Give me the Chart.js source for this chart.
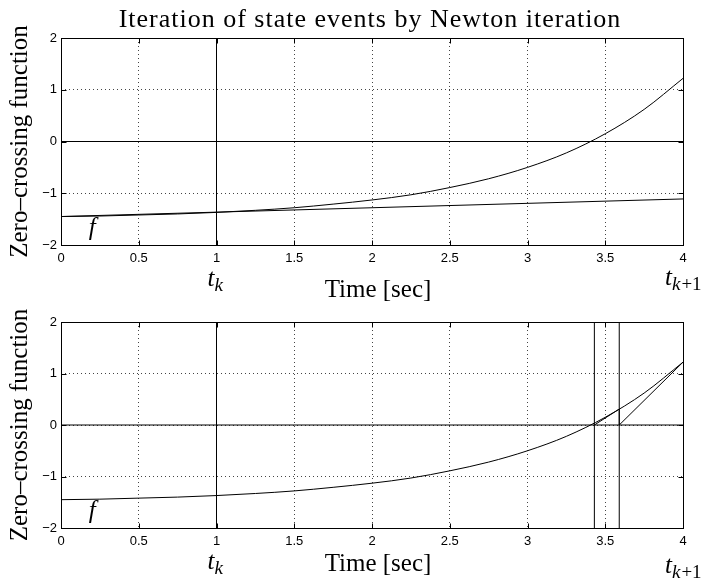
<!DOCTYPE html>
<html>
<head>
<meta charset="utf-8">
<script src="https://cdn.jsdelivr.net/npm/chart.js@4.4.1/dist/chart.umd.min.js"></script>
<style>
  body { margin: 0; background: #fff; }
  canvas { position: absolute; left: 0; }
  #topChart { top: 0; }
  #bottomChart { top: 290px; }
</style>
</head>
<body>
<canvas id="topChart" width="714" height="310"></canvas>
<canvas id="bottomChart" width="714" height="297"></canvas>
<script>
// values
const timeSec = [0, 0.25, 0.5, 0.75, 1, 1.25, 1.5, 1.75, 2, 2.25, 2.5, 2.75, 3, 3.25, 3.5, 3.75, 4];
const zeroCrossing = [-1.45, -1.44, -1.42, -1.4, -1.37, -1.33, -1.28, -1.21, -1.13, -1.03, -0.89, -0.72, -0.5, -0.22, 0.15, 0.62, 1.22];

const tk = 1;
const tk1 = 4;

// straight line through f(0) and f(tk), top plot
const secantTime = [0, 4];
const secantValue = [-1.45, -1.11];

// newton steps, bottom plot
const newtonTime = [4, 3.59, 3.59, 3.43];
const newtonValue = [1.22, 0, 0.31, 0];
const eventTimes = [3.43, 3.59];

const xTicks = [0, 0.5, 1, 1.5, 2, 2.5, 3, 3.5, 4];
const yTicks = [-2, -1, 0, 1, 2];

const titleText = 'Iteration of state events by Newton iteration';
const serif = '"Liberation Serif", "Times New Roman", serif';
const sans = '"Liberation Sans", Arial, sans-serif';

const toPoints = (xs, ys) => xs.map((x, i) => ({x: x, y: ys[i]}));

const lineSet = (data, extra) => Object.assign({
    data: data,
    showLine: true,
    borderColor: '#000',
    borderWidth: 1,
    pointRadius: 0,
    fill: false,
}, extra || {});

const baseSets = () => [
    lineSet(toPoints(timeSec, zeroCrossing), {cubicInterpolationMode: 'monotone'}),
    lineSet([{x: 0, y: 0}, {x: 4, y: 0}]),
    lineSet([{x: tk, y: -2}, {x: tk, y: 2}]),
];

const drawSub = (ctx, main, sub, rest, x, y) => {
    ctx.font = 'italic 25px ' + serif;
    ctx.fillText(main, x, y);
    let w = ctx.measureText(main).width;
    ctx.font = 'italic 19px ' + serif;
    ctx.fillText(sub, x + w, y + 5);
    if (rest) {
        let w2 = ctx.measureText(sub).width;
        ctx.font = '19px ' + serif;
        ctx.fillText(rest, x + w + w2 + 1, y + 5);
    }
};

// box, inward ticks and the annotation texts
const framePlugin = {
    id: 'frame',
    afterDraw(chart, args, opts) {
        const {ctx, chartArea: a, scales: {x, y}} = chart;
        ctx.save();
        ctx.strokeStyle = '#000';
        ctx.lineWidth = 1;
        const L = Math.round(a.left) + 0.5, R = Math.round(a.right) + 0.5;
        const T = Math.round(a.top) + 0.5, B = Math.round(a.bottom) + 0.5;
        ctx.strokeRect(L, T, R - L, B - T);
        ctx.beginPath();
        xTicks.forEach(v => {
            let px = Math.round(x.getPixelForValue(v)) + 0.5;
            ctx.moveTo(px, B); ctx.lineTo(px, B - 5);
            ctx.moveTo(px, T); ctx.lineTo(px, T + 5);
        });
        yTicks.forEach(v => {
            let py = Math.round(y.getPixelForValue(v)) + 0.5;
            ctx.moveTo(L, py); ctx.lineTo(L + 5, py);
            ctx.moveTo(R, py); ctx.lineTo(R - 5, py);
        });
        ctx.stroke();

        ctx.fillStyle = '#000';
        ctx.textBaseline = 'alphabetic';
        ctx.textAlign = 'left';
        drawSub(ctx, 't', 'k', '', x.getPixelForValue(tk) - 9, a.bottom + opts.tkBase);
        drawSub(ctx, 't', 'k', '+1', x.getPixelForValue(tk1) - 18, a.bottom + opts.tk1Base);

        ctx.font = '25px ' + serif;
        ctx.textAlign = 'center';
        ctx.fillText('Time [sec]', (a.left + a.right) / 2 + 6, a.bottom + opts.timeBase);

        if (opts.title) {
            ctx.font = '26px ' + serif;
            ctx.letterSpacing = '1px';
            ctx.fillText(opts.title, (a.left + a.right) / 2 - 2, a.top - 11);
            ctx.letterSpacing = '0px';
        }

        ctx.font = 'italic 25px ' + serif;
        ctx.fillText('f', x.getPixelForValue(0.2), y.getPixelForValue(-1.65) + 8);
        ctx.restore();
    },
};

const makeOptions = (xHeight, padTop, labelOpts) => ({
    responsive: false,
    animation: false,
    devicePixelRatio: 1,
    layout: {padding: {left: 0, right: 31, top: padTop, bottom: 0}},
    plugins: {
        legend: {display: false},
        tooltip: {enabled: false},
        frame: labelOpts,
    },
    scales: {
        x: {
            type: 'linear',
            min: 0,
            max: 4,
            afterFit: s => { s.height = xHeight; },
            afterBuildTicks: s => { s.ticks = xTicks.map(v => ({value: v})); },
            grid: {color: '#444', lineWidth: 1, drawTicks: false},
            border: {display: false, dash: [1, 3]},
            ticks: {
                color: '#000',
                padding: 6,
                maxRotation: 0,
                font: {family: sans, size: 13},
                callback: v => String(v),
            },
        },
        y: {
            type: 'linear',
            min: -2,
            max: 2,
            afterFit: s => { s.width = 61; },
            afterBuildTicks: s => { s.ticks = yTicks.map(v => ({value: v})); },
            grid: {color: '#444', lineWidth: 1, drawTicks: false},
            border: {display: false, dash: [1, 3]},
            ticks: {
                color: '#000',
                padding: 4,
                font: {family: sans, size: 13},
                callback: v => String(v).replace('-', '\u2212'),
            },
            title: {
                display: true,
                text: 'Zero\u2013crossing function',
                color: '#000',
                font: {family: serif, size: 25},
                padding: {top: 5, bottom: 0},
            },
        },
    },
});

new Chart(document.getElementById('topChart'), {
    type: 'scatter',
    data: {
        datasets: baseSets().concat([
            lineSet(toPoints(secantTime, secantValue)),
        ]),
    },
    options: makeOptions(65, 38, {tkBase: 41, tk1Base: 40, timeBase: 52, title: titleText}),
    plugins: [framePlugin],
});

new Chart(document.getElementById('bottomChart'), {
    type: 'scatter',
    data: {
        datasets: baseSets().concat(
            eventTimes.map(t => lineSet([{x: t, y: -2}, {x: t, y: 2}])),
            [lineSet(toPoints(newtonTime, newtonValue))]
        ),
    },
    options: makeOptions(59, 32, {tkBase: 41, tk1Base: 45, timeBase: 43}),
    plugins: [framePlugin],
});
</script>
</body>
</html>
